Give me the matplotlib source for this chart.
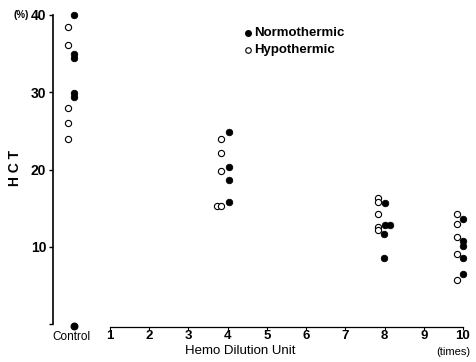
import matplotlib
matplotlib.use("Agg")
import matplotlib.pyplot as plt

# ---- data ----
x_ticks = [1, 2, 3, 4, 5, 6, 7, 8, 9, 10]
y_ticks = [10, 20, 30, 40]

# Normothermic (filled)
norm_x = [0.08, 0.08, 0.08, 0.08, 0.08,
          4.03, 4.03, 4.03, 4.03,
          8.0, 8.0, 8.15, 7.99, 7.99,
          10.0, 10.0, 10.0, 10.0, 10.0]
norm_hct = [40.0, 34.9, 34.4, 29.9, 29.4,
            24.8, 20.3, 18.7, 15.8,
            15.7, 12.8, 12.8, 11.7, 8.6,
            13.6, 10.7, 10.1, 8.5, 6.5]

# Hypothermic (open)
hypo_x = [-0.08, -0.08, -0.08, -0.08, -0.08,
          3.84, 3.84, 3.82, 3.72, 3.84,
          7.84, 7.84, 7.84, 7.84, 7.84,
          9.84, 9.84, 9.84, 9.84, 9.84]
hypo_hct = [38.5, 36.1, 27.9, 26.0, 23.9,
            23.9, 22.1, 19.8, 15.3, 15.3,
            16.3, 15.8, 14.2, 12.6, 12.2,
            14.2, 13.0, 11.2, 9.1, 5.7]

# bullet shown next to the "Control" label
ctrl_mark_x = [0.08]
ctrl_mark_y = [-0.2]

plt.rcParams['font.family'] = ['Liberation Sans Narrow', 'Liberation Sans', 'DejaVu Sans']

fig = plt.figure(figsize=(4.76, 3.62), dpi=100)
ax = fig.add_axes([0.0992, 0.0942, 0.8817, 0.8751])
ax.set_xlim(-0.6, 10.1)
ax.set_ylim(-0.5, 40.5)

ax.scatter(norm_x, norm_hct, s=22, c='black', edgecolors='black', linewidths=0.6, zorder=3, clip_on=False)
ax.scatter(hypo_x, hypo_hct, s=20, facecolors='white', edgecolors='black', linewidths=0.8, zorder=3, clip_on=False)
ax.scatter(ctrl_mark_x, ctrl_mark_y, s=22, c='black', zorder=3, clip_on=False)

for s in ['top', 'right']:
    ax.spines[s].set_visible(False)
ax.spines['left'].set_position(('data', -0.45))
ax.spines['left'].set_bounds(0, 40)
ax.spines['bottom'].set_position(('data', -0.35))
ax.spines['bottom'].set_bounds(1, 10)
ax.spines['left'].set_linewidth(1.2)
ax.spines['bottom'].set_linewidth(0.9)

ax.set_yticks(y_ticks + [0])
ax.set_yticklabels([str(v) for v in y_ticks] + [''], fontsize=10, fontweight='bold')
ax.set_xticks(x_ticks)
ax.set_xticklabels([str(v) for v in x_ticks], fontsize=9.5, fontweight='bold')
ax.tick_params(axis='y', direction='out', length=3, width=1, pad=2)
ax.tick_params(axis='x', direction='out', length=2, width=0.8, pad=0.5)

# labels
fig.text(15 / 476, 1 - 168 / 362, 'H C T', rotation=90, ha='center', va='center',
         fontsize=10, fontweight='bold')
fig.text(21 / 476, 1 - 15 / 362, '(%)', ha='center', va='center', fontsize=7, fontweight='bold')
fig.text(240 / 476, 1 - 351 / 362, 'Hemo Dilution Unit', ha='center', va='center', fontsize=9.5)
fig.text(453 / 476, 1 - 352 / 362, '(times)', ha='center', va='center', fontsize=8)
fig.text(71 / 476, 1 - 337 / 362, 'Control', ha='center', va='center', fontsize=8.5)

# legend
fig.lines.append(plt.Line2D([248 / 476], [1 - 33 / 362], marker='o', markersize=4,
                            color='black', transform=fig.transFigure, linestyle='none'))
fig.lines.append(plt.Line2D([248 / 476], [1 - 50 / 362], marker='o', markersize=4,
                            markerfacecolor='white', markeredgecolor='black', markeredgewidth=0.8,
                            transform=fig.transFigure, linestyle='none'))
fig.text(254 / 476, 1 - 33 / 362, 'Normothermic', ha='left', va='center', fontsize=9.5, fontweight='bold')
fig.text(254 / 476, 1 - 50 / 362, 'Hypothermic', ha='left', va='center', fontsize=9.5, fontweight='bold')

fig.savefig('out.png', dpi=100)
